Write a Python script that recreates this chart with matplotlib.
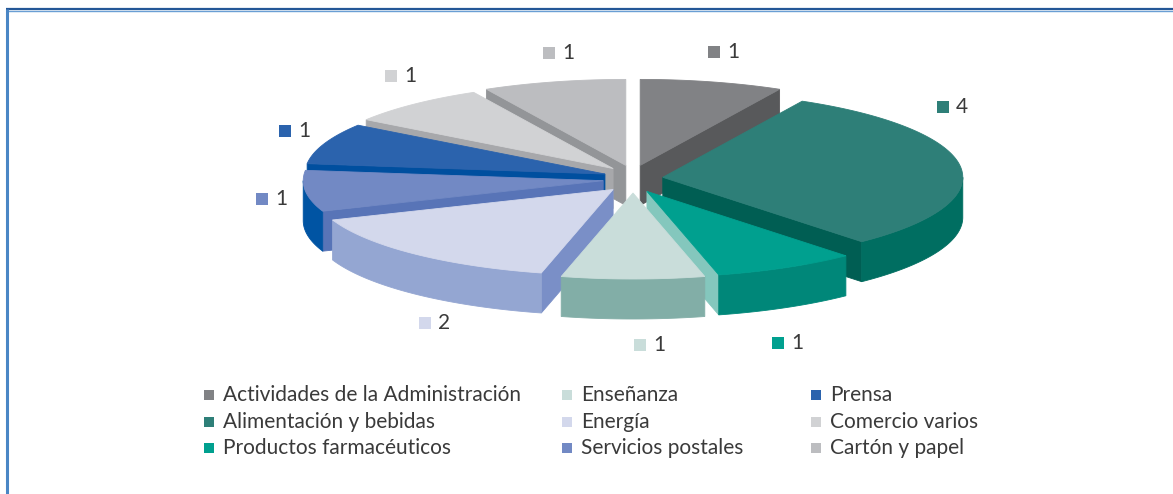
import numpy as np
import matplotlib.pyplot as plt
from matplotlib.patches import Polygon, Rectangle

categories = ['Actividades de la Administración', 'Alimentación y bebidas',
              'Productos farmacéuticos', 'Enseñanza', 'Energía',
              'Servicios postales', 'Prensa', 'Comercio varios', 'Cartón y papel']
values = [1, 4, 1, 1, 2, 1, 1, 1, 1]

# top / outer wall / cut face colours
top_col = ['#818285', '#2E7F78', '#00A08F', '#C9DDDA', '#D3D8EC',
           '#7289C4', '#2B63AD', '#D1D2D4', '#BCBDC0']
wall_col = ['#6A6B6E', '#006E61', '#008779', '#82AEA7', '#94A6D2',
            '#0054A3', '#1F4F92', '#B5B6B8', '#A3A4A7']
cut_col = ['#58595B', '#005E53', '#84C7BD', '#9FC2BC', '#7A8FC7',
           '#5874B7', '#004F9F', '#A7A8AB', '#939598']

# where the data labels sit (pixel positions of the small squares)
label_xy = [(714, 52), (943, 107), (778, 343), (640, 345), (425, 323),
            (262, 199), (285, 131), (391, 76), (549, 53)]

cx, cy, rx, ry, depth = 633, 179, 300, 86, 40
ex, ey = 30, 14

plt.rcParams['font.family'] = ['Lato', 'DejaVu Sans']
fig = plt.figure(figsize=(11.73, 4.94), dpi=100)
ax = fig.add_axes([0, 0, 1, 1])
ax.set_xlim(0, 1173)
ax.set_ylim(494, 0)
ax.axis('off')

tot = sum(values)
bounds = np.cumsum([0] + values) / tot * 2 * np.pi

walls = []
tops = []
for i in range(len(values)):
    t0, t1 = bounds[i], bounds[i + 1]
    mid = (t0 + t1) / 2
    dx, dy = ex * np.sin(mid), -ey * np.cos(mid)
    ox, oy = cx + dx, cy + dy

    def P(t):
        return np.column_stack([ox + rx * np.sin(t), oy - ry * np.cos(t)])

    th = np.linspace(t0, t1, 120)
    arc = P(th)
    tops.append((np.vstack([[ox, oy], arc]), top_col[i]))

    # outer wall, front half only
    a, b = max(t0, np.pi / 2), min(t1, 3 * np.pi / 2)
    if b > a:
        tw = np.linspace(a, b, 120)
        up = P(tw)
        dn = up + [0, depth]
        walls.append((np.vstack([up, dn[::-1]]), wall_col[i], up[:, 1].mean() + depth / 2))
    # radial cut faces
    for t, vis in ((t0, np.sin(t0) < -1e-6), (t1, np.sin(t1) > 1e-6)):
        if vis:
            p = P(np.array([t]))[0]
            poly = np.array([[ox, oy], p, p + [0, depth], [ox, oy + depth]])
            walls.append((poly, cut_col[i], (oy + p[1]) / 2))

for poly, col, z in sorted(walls, key=lambda w: w[2]):
    ax.add_patch(Polygon(poly, closed=True, fc=col, ec=col, lw=0.6))
for poly, col in tops:
    ax.add_patch(Polygon(poly, closed=True, fc=col, ec=col, lw=0.6))

# data labels
for i, (lx, ly) in enumerate(label_xy):
    ax.add_patch(Rectangle((lx - 6, ly - 6), 12, 12, fc=top_col[i], ec='none'))
    ax.text(lx + 13, ly, str(values[i]), fontsize=15, color='#3a3a3a',
            va='center', ha='left')

# legend, three columns filled top to bottom
col_x = [209, 567, 816]
row_y = [395, 422, 448]
for i, name in enumerate(categories):
    x, y = col_x[i // 3], row_y[i % 3]
    ax.add_patch(Rectangle((x - 5, y - 5), 10, 10, fc=top_col[i], ec='none'))
    ax.text(x + 14, y, name, fontsize=15, color='#3a3a3a',
            va='center', ha='left')

# frame
ax.plot([6, 1173], [9.5, 9.5], color='#245797', lw=1.6, solid_capstyle='butt')
ax.plot([6, 1173], [11, 11], color='#6A9FD4', lw=1.0, solid_capstyle='butt')
ax.plot([6.5, 6.5], [9, 494], color='#4A86C5', lw=2.2, solid_capstyle='butt')

fig.savefig('out.png', dpi=100)
